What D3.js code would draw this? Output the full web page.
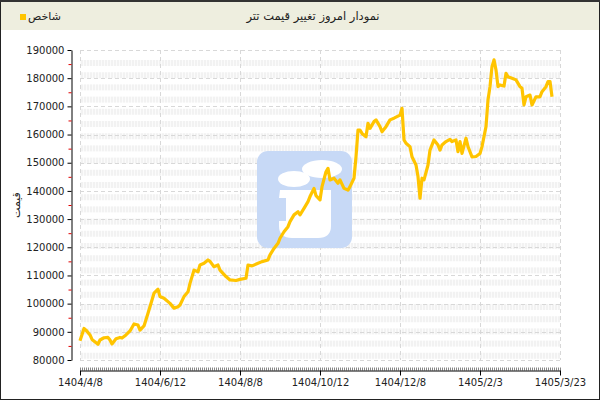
<!DOCTYPE html>
<html><head><meta charset="utf-8">
<script src="https://cdn.jsdelivr.net/npm/d3@7/dist/d3.min.js"></script>
<style>html,body{margin:0;padding:0;background:#fff;}svg{display:block;}</style>
</head><body>
<script>
// ---- data ----
const title = "نمودار امروز تغییر قیمت تتر";
const seriesName = "شاخص";
const yAxisTitle = "قیمت";
const xTickLabels = ["1404/4/8","1404/6/12","1404/8/8","1404/10/12","1404/12/8","1405/2/3","1405/3/23"];
const xTickIndex = [0,40,80,120,160,200,240];
const yTicks = [80000,90000,100000,110000,120000,130000,140000,150000,160000,170000,180000,190000];
const dayIndex = [0,2,3,5,6,9,10,12,14,15,16,18,20,21,23,25,27,29,30,32,34,36,37,39,40,42,45,47,49,50,52,54,55,57,59,60,62,64,65,67,69,70,73,75,78,80,83,84,86,89,91,94,95,97,99,100,102,104,105,107,109,110,112,114,115,117,118,120,121,123,124,125,127,129,130,132,134,135,137,138,139,140,141,143,144,145,147,148,150,151,153,155,157,160,161,162,163,165,166,168,169,170,171,172,174,175,177,179,180,181,183,185,186,188,189,190,191,193,194,196,198,200,201,203,204,205,206,207,208,209,210,212,213,214,216,218,220,221,222,223,225,226,228,230,231,233,234,235,236];
const prices = [86800,91200,90600,88900,87300,85600,87100,87900,88000,87100,85700,87500,88000,87800,88900,90300,92800,92400,90600,92100,96600,101300,103700,105100,102500,101900,100100,98400,98900,99500,102500,104200,107200,111900,111300,113700,114300,115500,115000,113100,113700,111900,109600,108400,108200,108600,109000,113700,113400,114300,114900,115500,117300,119600,121400,123200,125500,127300,129100,131500,132600,131500,133800,136200,138000,140900,138300,136800,141500,146800,148000,143900,144500,142700,143900,140900,140300,141500,144500,152100,161600,161600,160400,159200,164000,162200,164600,165200,162800,161000,162800,165200,165800,166900,169300,158100,156900,155700,152100,149200,145100,137400,144500,143900,149200,154500,158100,156300,154500,156300,157500,158300,157500,158100,153900,157500,153300,158700,155700,152100,152200,153300,155700,162800,172300,177000,184100,186500,182900,177000,177600,177200,181700,180500,180000,179400,177000,176400,170500,173400,174000,170500,173400,173400,175200,177000,178800,178800,173400];

const W = 600, H = 400;
const svg = d3.select("body").append("svg").attr("width", W).attr("height", H);

const x = d3.scaleLinear().domain([0, 240]).range([80, 560]);
const y = d3.scaleLinear().domain([80000, 190000]).range([360, 50]);

// background
svg.append("rect").attr("x",0).attr("y",0).attr("width",W).attr("height",H).attr("fill","#fff");
svg.append("rect").attr("x",0).attr("y",0).attr("width",W).attr("height",30).attr("fill","#EEEEDF");

// pattern for bands
const defs = svg.append("defs");
const pat = defs.append("pattern").attr("id","stripe").attr("patternUnits","userSpaceOnUse")
  .attr("width",3).attr("height",6);
pat.append("rect").attr("width",3).attr("height",6).attr("fill","#fafafa");
pat.append("rect").attr("width",2).attr("height",6).attr("fill","#efefef");

// bands
const bandG = svg.append("g");
for (let by = 60; by < 356; by += 12.2) {
  bandG.append("rect").attr("x",80).attr("y",by).attr("width",480).attr("height",6)
    .attr("fill","url(#stripe)").attr("opacity",0.8);
}

// grid
const grid = svg.append("g").attr("stroke","#d8d8d8").attr("stroke-dasharray","4,3").attr("stroke-width",1);
yTicks.forEach(v => grid.append("line").attr("x1",80).attr("x2",560)
  .attr("y1",Math.round(y(v))+0.5).attr("y2",Math.round(y(v))+0.5));
xTickIndex.forEach(v => grid.append("line").attr("y1",50).attr("y2",360)
  .attr("x1",Math.round(x(v))+0.5).attr("x2",Math.round(x(v))+0.5));

// watermark logo
const logo = svg.append("g");
logo.append("rect").attr("x",257).attr("y",151).attr("width",95).attr("height",97).attr("rx",11)
  .attr("fill","#c7d9f6");
logo.append("ellipse").attr("cx",322).attr("cy",169).attr("rx",20).attr("ry",9).attr("fill","#fff");
logo.append("ellipse").attr("cx",294).attr("cy",179).attr("rx",16).attr("ry",8).attr("fill","#fff");
logo.append("path").attr("fill","#fff")
  .attr("d","M280,190 L331,190 L331,226 Q331,238 318,238 L292,238 Q279,238 279,226 L279,221 L286,221 L286,198 L279,198 Z");

// line
const line = d3.line().x((d,i)=>x(dayIndex[i])).y(d=>y(d)).curve(d3.curveLinear);
svg.append("path").datum(prices).attr("d",line).attr("fill","none")
  .attr("stroke","#FFC400").attr("stroke-width",3.2).attr("stroke-linejoin","round");

// y axis
const yAxis = d3.axisLeft(y).tickValues(yTicks).tickSize(4).tickSizeOuter(0).tickFormat(d=>d);
const gy = svg.append("g").attr("transform","translate(71.5,0)").call(yAxis);
gy.select(".domain").attr("stroke","#000");
gy.selectAll(".tick line").attr("stroke","#000");
gy.selectAll("text").attr("font-family","DejaVu Sans").attr("font-size",10).attr("fill","#222");
const yMinor = yTicks.slice(0,-1).map(v=>v+5000);
const gym = svg.append("g").attr("transform","translate(71.5,0)")
  .call(d3.axisLeft(y).tickValues(yMinor).tickSize(3).tickSizeOuter(0).tickFormat(""));
gym.select(".domain").remove();
gym.selectAll(".tick line").attr("stroke","#e00000");

// x axis
const gxm = svg.append("g").attr("transform","translate(0,370.5)")
  .call(d3.axisBottom(x).tickValues(d3.range(0,241)).tickSize(-3).tickSizeOuter(0).tickFormat(""));
gxm.select(".domain").remove();
gxm.selectAll(".tick line").attr("stroke","#888");
const gx = svg.append("g").attr("transform","translate(0,370.5)")
  .call(d3.axisBottom(x).tickValues(xTickIndex).tickSize(5).tickSizeOuter(0).tickFormat((d,i)=>xTickLabels[i]));
gx.select(".domain").attr("stroke","#000");
gx.selectAll(".tick line").attr("stroke","#000");
gx.selectAll("text").attr("font-family","DejaVu Sans").attr("font-size",10).attr("fill","#222");

// y axis title
svg.append("text").attr("transform","translate(20,205) rotate(-90)").attr("text-anchor","middle")
  .attr("font-family","DejaVu Sans").attr("font-size",11).attr("fill","#222").text(yAxisTitle);

// title
svg.append("text").attr("x",313).attr("y",20).attr("text-anchor","middle")
  .attr("font-family","DejaVu Sans").attr("font-size",11.5).attr("fill","#222").text(title);

// legend
svg.append("rect").attr("x",20).attr("y",14).attr("width",6).attr("height",6).attr("fill","#FFC400");
svg.append("text").attr("x",28).attr("y",20).attr("text-anchor","start").attr("direction","ltr")
  .attr("font-family","DejaVu Sans").attr("font-size",11).attr("fill","#222").text(seriesName);

// border
svg.append("rect").attr("x",0.5).attr("y",0.5).attr("width",W-1).attr("height",H-1)
  .attr("fill","none").attr("stroke","#222");
svg.append("line").attr("x1",0).attr("x2",W).attr("y1",1).attr("y2",1).attr("stroke","#333").attr("stroke-width",2);
</script>
</body></html>
